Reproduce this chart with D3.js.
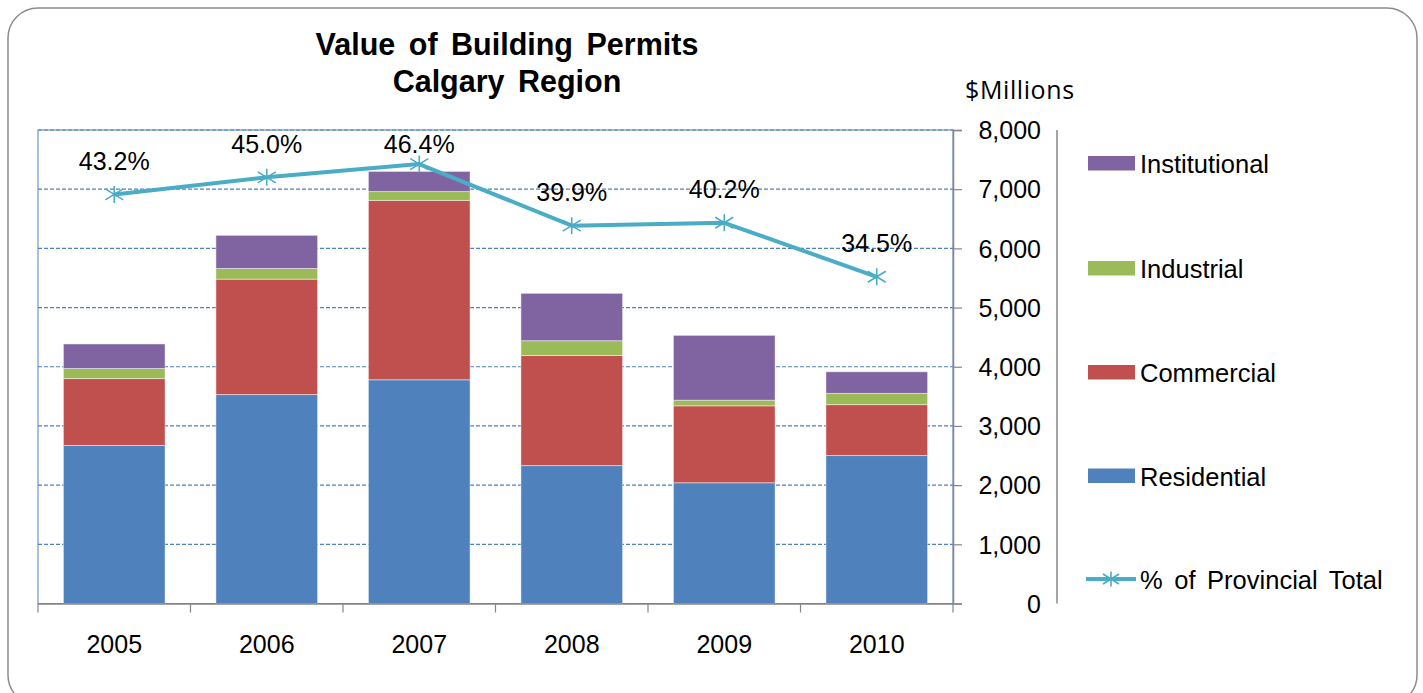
<!DOCTYPE html>
<html>
<head>
<meta charset="utf-8">
<script src="https://cdn.jsdelivr.net/npm/d3@7"></script>
<style>
  html, body { margin: 0; padding: 0; background: #fff; }
  svg { display: block; }
  text { font-family: "Liberation Sans", Arial, sans-serif; fill: #000; }
</style>
</head>
<body>
<svg id="chart" width="1423" height="693"></svg>
<script>
// ---- data ----
const years = ["2005", "2006", "2007", "2008", "2009", "2010"];
const residential   = [2670, 3530, 3780, 2330, 2040, 2500];
const commercial    = [1130, 1950, 3030, 1860, 1300, 860];
const industrial    = [170, 180, 150, 250, 95, 190];
const institutional = [415, 560, 340, 800, 1095, 365];
const provincialShare = [43.2, 45.0, 46.4, 39.9, 40.2, 34.5];
const yTicks = [0, 1000, 2000, 3000, 4000, 5000, 6000, 7000, 8000];
const seriesNames = ["Residential", "Commercial", "Industrial", "Institutional"];
const seriesColors = ["#4F81BD", "#C0504D", "#9BBB59", "#8064A2"];
const lineName = "% of Provincial Total";
const lineColor = "#4BACC6";

// ---- layout ----
const svg = d3.select("#chart");
const plot = { left: 38, right: 953, top: 130, bottom: 603.5 };

// outer rounded frame
svg.append("rect")
  .attr("x", 8).attr("y", 8).attr("width", 1409).attr("height", 697)
  .attr("rx", 30).attr("ry", 30)
  .attr("fill", "#fff").attr("stroke", "#8c8c8c").attr("stroke-width", 1.5);

const x = d3.scaleBand().domain(years)
  .range([plot.left, plot.right]).paddingInner(1/3).paddingOuter(1/6);
const y = d3.scaleLinear().domain([0, 8000]).range([plot.bottom, plot.top]);
const y2 = d3.scaleLinear().domain([0, 50]).range([plot.bottom, plot.top]);

// plot area border (left/top blue)
svg.append("rect")
  .attr("x", plot.left).attr("y", plot.top)
  .attr("width", plot.right - plot.left).attr("height", plot.bottom - plot.top)
  .attr("fill", "none").attr("stroke", "#4F81BD").attr("stroke-width", 1);

// gridlines
svg.append("g").selectAll("line").data(yTicks.filter(d => d > 0)).join("line")
  .attr("x1", plot.left).attr("x2", plot.right)
  .attr("y1", d => y(d)).attr("y2", d => y(d))
  .attr("stroke", "#4F81BD").attr("stroke-width", 1.2)
  .attr("stroke-dasharray", "4,2");

// stacked bars
const rows = years.map((yr, i) => ({
  year: yr,
  Residential: residential[i], Commercial: commercial[i],
  Industrial: industrial[i], Institutional: institutional[i]
}));
const stacked = d3.stack().keys(seriesNames)(rows);
svg.append("g").selectAll("g").data(stacked).join("g")
  .attr("fill", (d, i) => seriesColors[i])
  .selectAll("rect").data(d => d).join("rect")
  .attr("x", d => x(d.data.year))
  .attr("width", x.bandwidth())
  .attr("y", d => y(d[1]))
  .attr("height", d => y(d[0]) - y(d[1]))
  .attr("stroke", "#ffffff").attr("stroke-opacity", 0.45).attr("stroke-width", 1);

// right value axis
const yAxis = d3.axisRight(y).tickValues(yTicks).tickSize(9).tickFormat(d3.format(","));
const gy = svg.append("g").attr("transform", `translate(${plot.right},0)`).call(yAxis);
gy.select(".domain").attr("stroke", "#868686").attr("stroke-width", 1.5);
gy.selectAll(".tick line").attr("stroke", "#868686").attr("stroke-width", 1.2);
gy.selectAll(".tick text")
  .attr("x", 88).attr("text-anchor", "end").attr("dy", "0.35em")
  .style("font-family", "'Liberation Sans', Arial, sans-serif")
  .style("font-size", "25px").attr("fill", "#000");

// secondary (hidden-label) axis line
svg.append("line")
  .attr("x1", 1057).attr("x2", 1057).attr("y1", plot.top).attr("y2", plot.bottom)
  .attr("stroke", "#868686").attr("stroke-width", 1.5);

// bottom category axis
const xAxis = d3.axisBottom(x).tickSize(0);
const gx = svg.append("g").attr("transform", `translate(0,${plot.bottom})`).call(xAxis);
gx.select(".domain").attr("stroke", "#868686").attr("stroke-width", 1.5);
gx.selectAll(".tick text")
  .attr("y", 49).attr("dy", 0)
  .style("font-family", "'Liberation Sans', Arial, sans-serif")
  .style("font-size", "25px").attr("fill", "#000");
// tick marks between categories
const edges = [plot.left].concat(years.slice(1).map(d => x(d) - (x.step() - x.bandwidth()) / 2), [plot.right]);
svg.append("g").selectAll("line").data(edges).join("line")
  .attr("x1", d => d).attr("x2", d => d)
  .attr("y1", plot.bottom).attr("y2", plot.bottom + 9)
  .attr("stroke", "#868686").attr("stroke-width", 1.2);

// line series
const cx = (d, i) => x(years[i]) + x.bandwidth() / 2;
const line = d3.line().x((d, i) => cx(d, i)).y(d => y2(d));
svg.append("path").datum(provincialShare)
  .attr("d", line).attr("fill", "none")
  .attr("stroke", lineColor).attr("stroke-width", 4).attr("stroke-linejoin", "round");

const starPath = "M0,-8.5V8.5M-9,-5.5L9,5.5M-9,5.5L9,-5.5";
svg.append("g").selectAll("path").data(provincialShare).join("path")
  .attr("transform", (d, i) => `translate(${cx(d, i)},${y2(d)})`)
  .attr("d", starPath).attr("stroke", lineColor).attr("stroke-width", 1.6).attr("fill", "none");

// data labels
svg.append("g").selectAll("text").data(provincialShare).join("text")
  .attr("x", (d, i) => cx(d, i))
  .attr("y", d => Math.max(y2(d) - 24.5, plot.top + 23))
  .attr("text-anchor", "middle")
  .style("font-size", "25px")
  .text(d => d.toFixed(1) + "%");

// titles
svg.append("text").attr("x", 507).attr("y", 55).attr("text-anchor", "middle")
  .style("font-size", "30.5px").style("font-weight", "bold").attr("word-spacing", 5)
  .text("Value of Building Permits");
svg.append("text").attr("x", 507).attr("y", 92).attr("text-anchor", "middle")
  .style("font-size", "30.5px").style("font-weight", "bold").attr("word-spacing", 5)
  .text("Calgary Region");
svg.append("text").attr("x", 965).attr("y", 99)
  .style("font-family", "'Open Sans', sans-serif").style("font-size", "25px")
  .attr("letter-spacing", "0.6")
  .text("$Millions");

// legend
const legendItems = [
  { name: "Institutional", color: seriesColors[3], y: 163 },
  { name: "Industrial", color: seriesColors[2], y: 268 },
  { name: "Commercial", color: seriesColors[1], y: 372 },
  { name: "Residential", color: seriesColors[0], y: 475.5 }
];
const lg = svg.append("g");
lg.selectAll("rect").data(legendItems).join("rect")
  .attr("x", 1088).attr("y", d => d.y - 7).attr("width", 47).attr("height", 14.5)
  .attr("fill", d => d.color);
lg.selectAll("text.s").data(legendItems).join("text").attr("class", "s")
  .attr("x", 1140).attr("y", d => d.y + 10)
  .style("font-size", "25.5px").text(d => d.name);
lg.append("line").attr("x1", 1086).attr("x2", 1136).attr("y1", 579).attr("y2", 579)
  .attr("stroke", lineColor).attr("stroke-width", 4);
lg.append("path").attr("transform", "translate(1111,579)")
  .attr("d", "M0,-7.5V7.5M-8,-5L8,5M-8,5L8,-5")
  .attr("stroke", lineColor).attr("stroke-width", 1.6).attr("fill", "none");
lg.append("text").attr("x", 1140).attr("y", 588.5)
  .style("font-size", "25.5px").attr("word-spacing", 4.5).text(lineName);
</script>
</body>
</html>
